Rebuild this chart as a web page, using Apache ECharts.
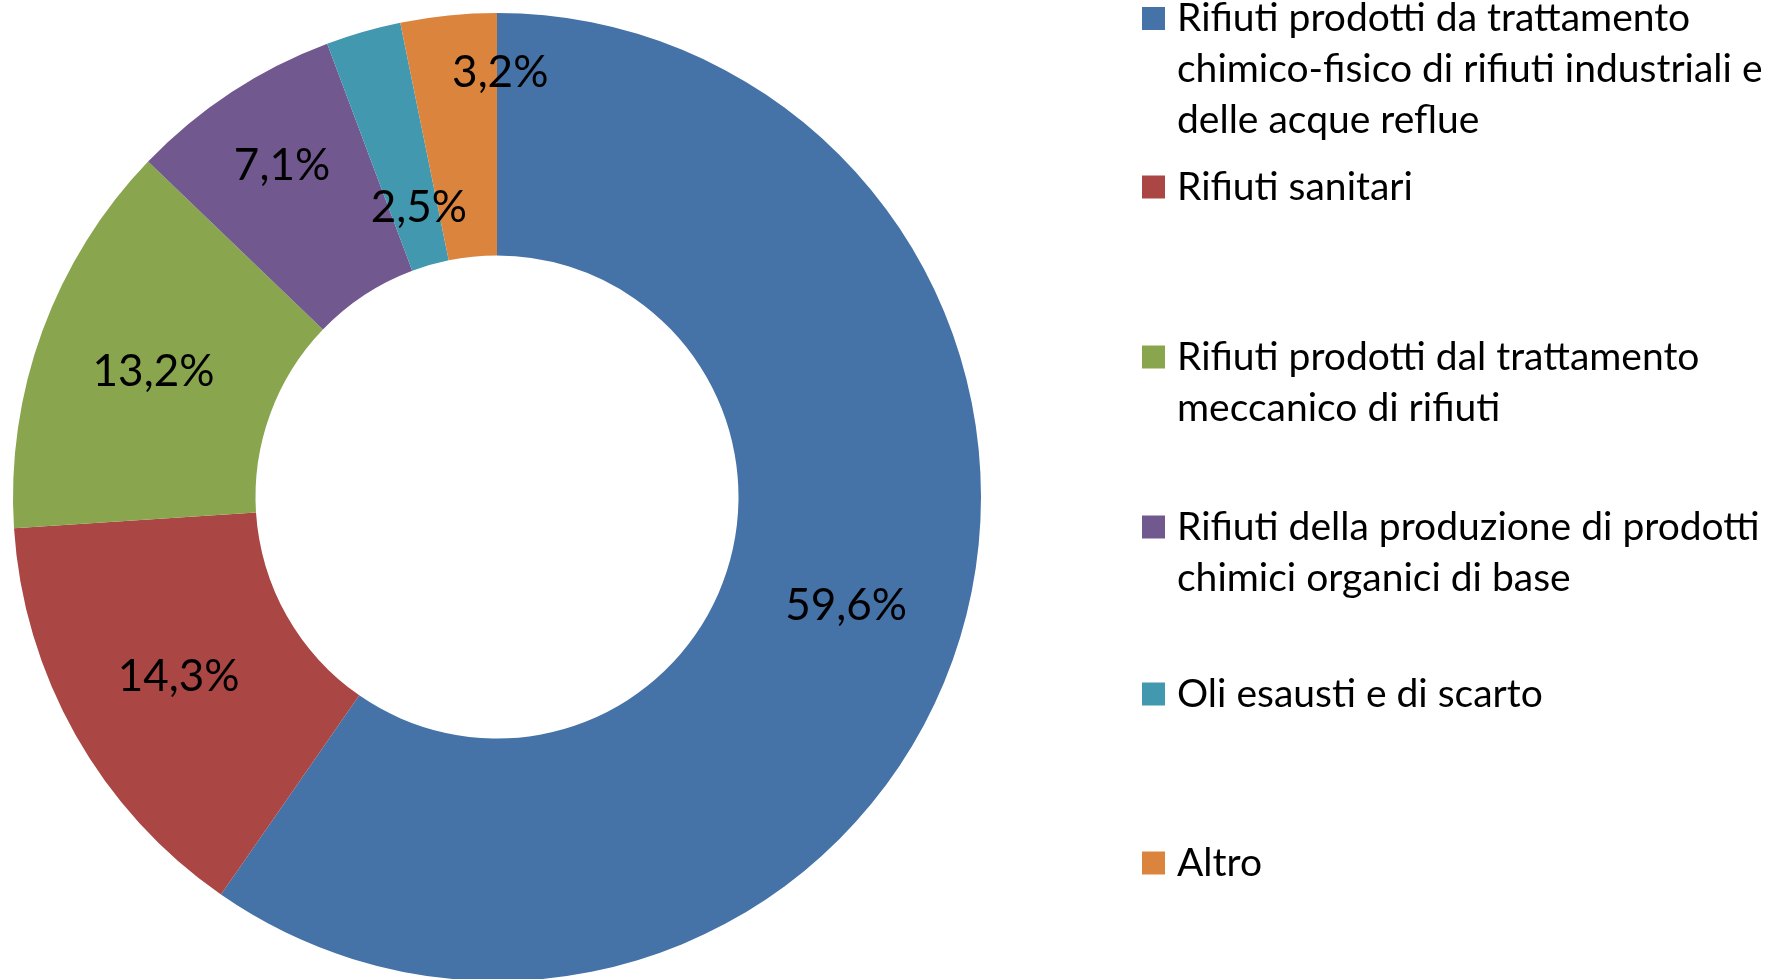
<!DOCTYPE html>
<html>
<head>
<meta charset="utf-8">
<script src="https://cdn.jsdelivr.net/npm/echarts@6/dist/echarts.min.js"></script>
<style>
  html, body { margin: 0; padding: 0; background: #fff; }
  #chart { width: 1776px; height: 979px; }
</style>
</head>
<body>
<div id="chart"></div>
<script>
// categorie (testo della legenda, con gli a capo come nell'originale)
const categories = [
  'Rifiuti prodotti da trattamento\nchimico-fisico di rifiuti industriali e\ndelle acque reflue',
  'Rifiuti sanitari',
  'Rifiuti prodotti dal trattamento\nmeccanico di rifiuti',
  'Rifiuti della produzione di prodotti\nchimici organici di base',
  'Oli esausti e di scarto',
  'Altro'
]
const values = [59.6, 14.3, 13.2, 7.1, 2.5, 3.2]
const colors = ['#4572A7', '#AA4643', '#89A54E', '#71588F', '#4198AF', '#DB843D']

// spostamenti delle etichette piccole (come fa Excel)
const labelShift = [[0, 0], [0, 0], [0, 0], [-14, -26], [23, 62], [40, -60]]
// centro verticale del quadratino di ogni voce di legenda
const legendIconY = [18.5, 187, 357, 527, 694, 863]

const FONT = 'Lato'
const LH = 51
const SQ = 23

// quadratino allineato alla prima riga del testo: il path copre tutta l'altezza della voce
function iconPath(n) {
  const h = n * LH
  const y0 = (LH - SQ) / 2
  return 'path://M0,0M0,' + y0 + 'H' + SQ + 'V' + (y0 + SQ) + 'H0Z' + 'M' + SQ + ',' + h
}

const legends = categories.map((name, i) => {
  const n = name.split('\n').length
  return {
    data: [name],
    orient: 'vertical',
    left: 1142,
    top: legendIconY[i] - LH / 2,
    padding: 0,
    itemWidth: SQ,
    itemHeight: n * LH,
    icon: iconPath(n),
    selectedMode: false,
    textStyle: {
      fontFamily: FONT,
      fontSize: 39,
      color: '#000',
      lineHeight: LH,
      padding: [0, 0, 0, 7]
    }
  }
})

const chart = echarts.init(document.getElementById('chart'))
chart.setOption({
  animation: false,
  color: colors,
  legend: legends,
  series: [{
    type: 'pie',
    center: [497, 497],
    radius: [241.5, 484],
    startAngle: 90,
    clockwise: true,
    avoidLabelOverlap: false,
    silent: true,
    itemStyle: { borderWidth: 0 },
    label: {
      position: 'inside',
      fontFamily: FONT,
      fontSize: 44,
      color: '#000',
      formatter: (p) => p.value.toFixed(1).replace('.', ',') + '%'
    },
    labelLine: { show: false },
    labelLayout: (p) => ({ dx: labelShift[p.dataIndex][0], dy: labelShift[p.dataIndex][1] }),
    data: categories.map((name, i) => ({ name: name, value: values[i] }))
  }]
})
</script>
</body>
</html>
